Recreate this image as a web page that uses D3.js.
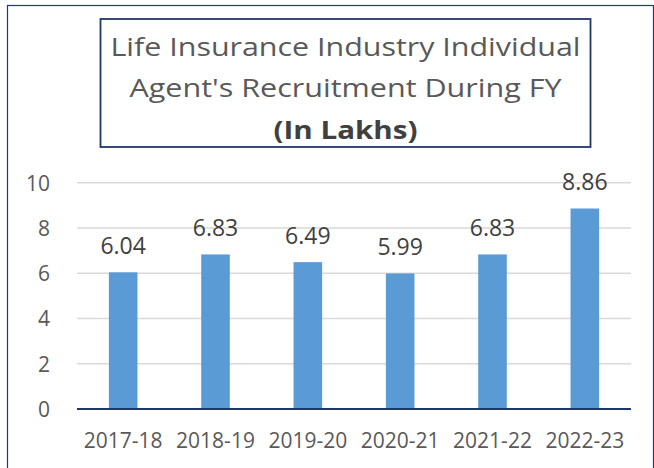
<!DOCTYPE html>
<html>
<head>
<meta charset="utf-8">
<script src="https://cdn.jsdelivr.net/npm/d3@7"></script>
<style>
  html, body { margin: 0; padding: 0; background: #fff; }
  svg { display: block; }
</style>
</head>
<body>
<script>
const categories = ["2017-18", "2018-19", "2019-20", "2020-21", "2021-22", "2022-23"];
const values = [6.04, 6.83, 6.49, 5.99, 6.83, 8.86];
const yTicks = [0, 2, 4, 6, 8, 10];
const titleLines = ["Life Insurance Industry Individual", "Agent's Recruitment During FY", "(In Lakhs)"];

const W = 654, H = 468;
const svg = d3.select("body").append("svg").attr("width", W).attr("height", H);

// outer border
svg.append("rect").attr("x", 7.5).attr("y", 5.5).attr("width", 646).attr("height", 480)
  .attr("fill", "none").attr("stroke", "#1F3A7A").attr("stroke-width", 1.2);

// title box
svg.append("rect").attr("x", 100.5).attr("y", 19).attr("width", 490).attr("height", 128)
  .attr("fill", "#fff").attr("stroke", "#1F3864").attr("stroke-width", 1.8);

const titleSpecs = [
  {y: 56, len: 470, weight: 400, size: 26, color: "#595959"},
  {y: 97, len: 432, weight: 400, size: 26, color: "#595959"},
  {y: 139, len: 144, weight: 700, size: 25, color: "#404040"}
];
titleLines.forEach((t, i) => {
  const s = titleSpecs[i];
  svg.append("text").attr("x", 345.5).attr("y", s.y)
    .attr("text-anchor", "middle")
    .attr("font-family", "'Open Sans', sans-serif")
    .attr("font-size", s.size).attr("font-weight", s.weight)
    .attr("fill", s.color)
    .attr("textLength", s.len).attr("lengthAdjust", "spacingAndGlyphs")
    .text(t);
});

const x = d3.scaleBand().domain(categories).range([77, 631]).paddingInner(0.69).paddingOuter(0.345);
const y = d3.scaleLinear().domain([0, 10]).range([409, 182.7]);

// gridlines
svg.append("g").selectAll("line").data(yTicks.filter(d => d > 0)).join("line")
  .attr("x1", 77).attr("x2", 631)
  .attr("y1", d => y(d)).attr("y2", d => y(d))
  .attr("stroke", "#D9D9D9").attr("stroke-width", 1.5);

// y axis labels
const yAxis = d3.axisLeft(y).tickValues(yTicks).tickSize(0).tickPadding(0).tickFormat(d3.format("d"));
const gy = svg.append("g").attr("transform", "translate(50,0)").call(yAxis);
gy.select(".domain").remove();
gy.selectAll("text").attr("font-family", "'Open Sans', sans-serif").attr("font-size", 21)
  .attr("fill", "#595959").attr("dy", "0.35em");

// bars
svg.append("g").selectAll("rect").data(values).join("rect")
  .attr("x", (d, i) => x(categories[i]))
  .attr("width", x.bandwidth())
  .attr("y", d => y(d))
  .attr("height", d => y(0) - y(d))
  .attr("fill", "#5B9BD5");

// baseline
svg.append("line").attr("x1", 77).attr("x2", 631).attr("y1", y(0)).attr("y2", y(0))
  .attr("stroke", "#1F3864").attr("stroke-width", 2);

// x axis labels
const xAxis = d3.axisBottom(x).tickSize(0).tickPadding(0);
const gx = svg.append("g").attr("transform", "translate(0,448)").call(xAxis);
gx.select(".domain").remove();
gx.selectAll("text").attr("font-family", "'Open Sans', sans-serif").attr("font-size", 21)
  .attr("fill", "#595959").attr("dy", 0);

// data labels
svg.append("g").selectAll("text").data(values).join("text")
  .attr("x", (d, i) => x(categories[i]) + x.bandwidth() / 2)
  .attr("y", d => y(d) - 18)
  .attr("text-anchor", "middle")
  .attr("font-family", "'Open Sans', sans-serif").attr("font-size", 23)
  .attr("fill", "#404040")
  .text(d => d.toFixed(2));
</script>
</body>
</html>
